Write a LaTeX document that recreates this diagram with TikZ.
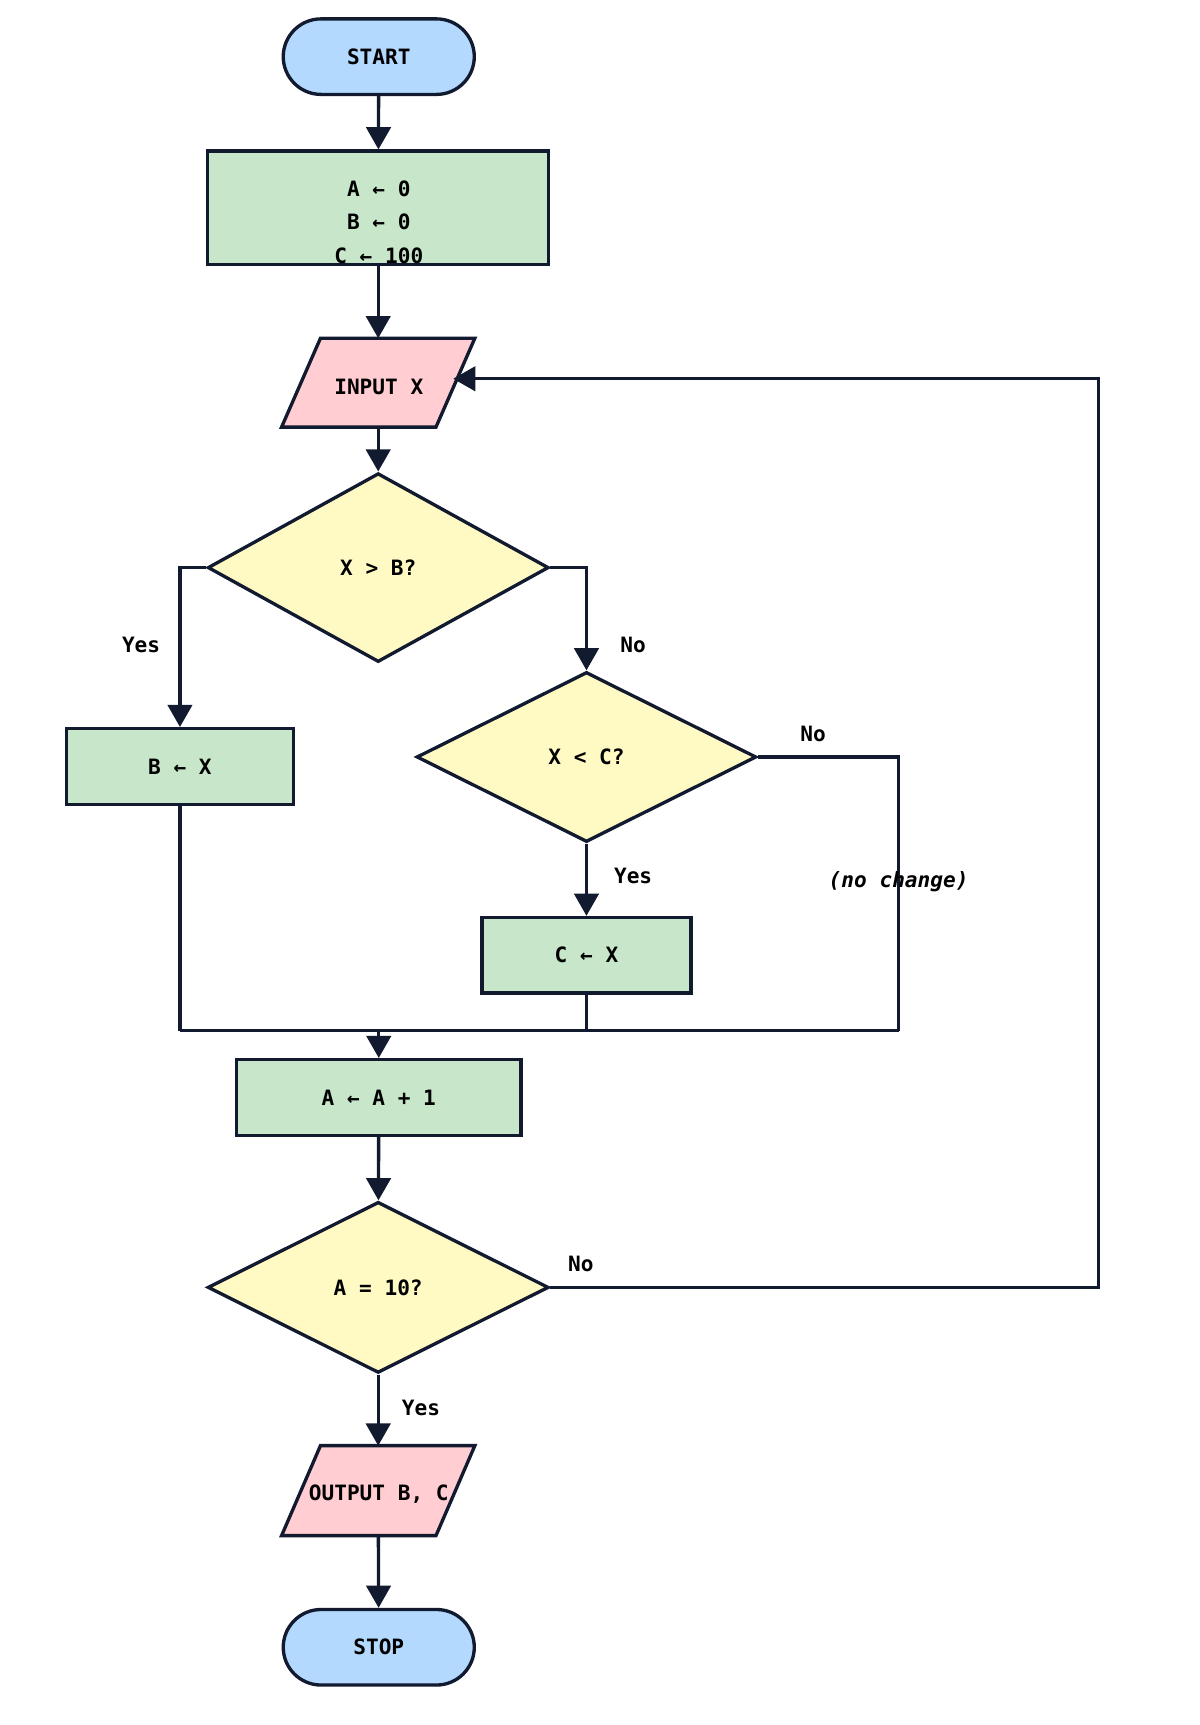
\documentclass[tikz,border=0pt]{standalone}
\usepackage{fontspec}
\setmonofont{DejaVu Sans Mono}
\usetikzlibrary{arrows.meta}
\usetikzlibrary{calc}
\usetikzlibrary{shapes}
\definecolor{lineblue}{HTML}{111A2E}
\definecolor{termfill}{HTML}{B3D9FF}
\definecolor{procfill}{HTML}{C8E6C9}
\definecolor{iofill}{HTML}{FFCDD2}
\definecolor{decfill}{HTML}{FFF9C4}

\begin{document}
\begin{tikzpicture}[x=1pt, y=-1pt, line width=3pt,
        font=\fontsize{19}{30}\selectfont\ttfamily\bfseries,
        term_style/.style={rectangle, rounded corners=34pt, draw=lineblue, fill=termfill, minimum width=172pt, minimum height=68pt, inner sep=0pt},
        proc_style/.style={rectangle, draw=lineblue, fill=procfill, minimum height=68pt, inner sep=0pt},
        io_style/.style={draw=lineblue, fill=iofill, line join=miter},
        dec_style/.style={diamond, draw=lineblue, fill=decfill, inner sep=0pt},
        edge_style/.style={draw=lineblue, -{Triangle[length=20pt,width=22pt]}},
        line_style/.style={draw=lineblue},
        label_style/.style={text=black}]

        \useasboundingbox (0,0) rectangle (1080,1553);

        \node [term_style](start) at (341,51) {START};

        \node [proc_style, minimum width=307pt, minimum height=102pt](init) at (340.5,187) {};
        \node [align=center](inittxt) at (341,200) {A ← 0\\B ← 0\\C ← 100};

        % input parallelogram
        \node [minimum width=171pt, minimum height=77pt, inner sep=0pt](input) at (340.5,344.5) {};
        \path [io_style] ($(input.north west)+(35,0)$) -- (input.north east) -- ($(input.south east)+(-35,0)$) -- (input.south west) -- cycle;
        \node at (341,348) {INPUT X};

        \node [dec_style, minimum width=307pt, minimum height=170pt](testB) at (340.5,511) {X > B?};
        \node [proc_style, minimum width=204pt](setB) at (162,690) {B ← X};
        \node [dec_style, minimum width=306pt, minimum height=153pt](testC) at (528,681.5) {X < C?};
        \node [proc_style, minimum width=188pt](setC) at (528,860) {C ← X};
        \node [proc_style, minimum width=256pt](incA) at (341,988) {A ← A + 1};
        \node [dec_style, minimum width=307pt, minimum height=154pt](testA) at (340.5,1159) {A = 10?};

        % output parallelogram
        \node [minimum width=171pt, minimum height=78pt, inner sep=0pt](output) at (340.5,1342) {};
        \path [io_style] ($(output.north west)+(35,0)$) -- (output.north east) -- ($(output.south east)+(-35,0)$) -- (output.south west) -- cycle;
        \node at (341,1345) {OUTPUT B, C};

        \node [term_style](stop) at (341,1483) {STOP};

        \coordinate (mergeL) at (162,928);
        \coordinate (mergeM) at (341,928);
        \coordinate (mergeC) at (528,928);
        \coordinate (mergeR) at (809,928);
        \coordinate (loopB) at (989,1159);
        \coordinate (loopT) at (989,341);
        \coordinate (inputR) at (408,341);

        \draw [edge_style] (start) -- (init);
        \draw [edge_style] (init) -- (input);
        \draw [edge_style] (input) -- (testB);
        \draw [edge_style] (testB.west) -| (setB);
        \draw [edge_style] (testB.east) -| (testC);
        \draw [edge_style] (testC) -- (setC);
        \draw [line_style] (testC.east) -| (mergeR);
        \draw [line_style] (setB) -- (mergeL);
        \draw [line_style] (setC) -- (mergeC);
        \draw [line_style] (mergeL) -- (mergeR);
        \draw [edge_style] (mergeM) -- (incA);
        \draw [edge_style] (incA) -- (testA);
        \draw [edge_style] (testA.east) -- (loopB) -- (loopT) -- (inputR);
        \draw [edge_style] (testA) -- (output);
        \draw [edge_style] (output) -- (stop);

        \node [label_style](yes1) at (127,581) {Yes};
        \node [label_style](no1) at (570,581) {No};
        \node [label_style](no2) at (732,661) {No};
        \node [label_style](yes2) at (570,789) {Yes};
        \node [label_style](nochg) at (809,794) {\itshape (no change)};
        \node [label_style](no3) at (523,1138) {No};
        \node [label_style](yes3) at (379,1268) {Yes};

\end{tikzpicture}
\end{document}
